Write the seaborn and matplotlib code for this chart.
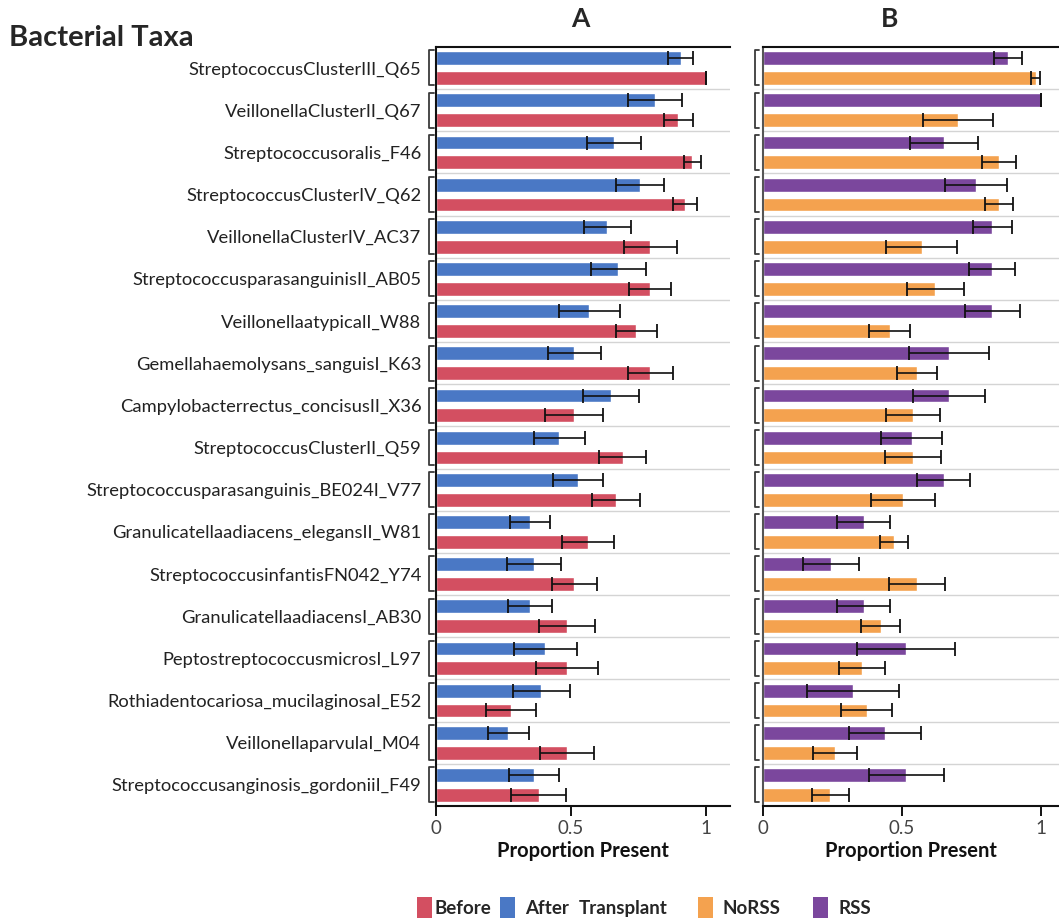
import numpy as np
import pandas as pd
import seaborn as sns
import matplotlib.pyplot as plt
from matplotlib.lines import Line2D
from matplotlib.patches import Rectangle
from matplotlib.transforms import blended_transform_factory

# ---- data -------------------------------------------------------------
taxa = [
    "StreptococcusClusterIII_Q65",
    "VeillonellaClusterII_Q67",
    "Streptococcusoralis_F46",
    "StreptococcusClusterIV_Q62",
    "VeillonellaClusterIV_AC37",
    "StreptococcusparasanguinisII_AB05",
    "VeillonellaatypicalI_W88",
    "Gemellahaemolysans_sanguisI_K63",
    "Campylobacterrectus_concisusII_X36",
    "StreptococcusClusterII_Q59",
    "Streptococcusparasanguinis_BE024I_V77",
    "Granulicatellaadiacens_elegansII_W81",
    "StreptococcusinfantisFN042_Y74",
    "GranulicatellaadiacensI_AB30",
    "PeptostreptococcusmicrosI_L97",
    "Rothiadentocariosa_mucilaginosaI_E52",
    "VeillonellaparvulaI_M04",
    "Streptococcusanginosis_gordoniiI_F49",
]

after = [0.906, 0.811, 0.660, 0.756, 0.635, 0.675, 0.567, 0.512, 0.648,
         0.457, 0.526, 0.349, 0.363, 0.349, 0.405, 0.390, 0.268, 0.363]
after_err = [0.045, 0.100, 0.100, 0.088, 0.088, 0.102, 0.113, 0.099, 0.105,
             0.093, 0.093, 0.074, 0.099, 0.082, 0.117, 0.105, 0.075, 0.091]
before = [1.000, 0.898, 0.949, 0.922, 0.794, 0.794, 0.742, 0.794, 0.512,
          0.691, 0.667, 0.563, 0.512, 0.485, 0.485, 0.279, 0.485, 0.381]
before_err = [0.000, 0.054, 0.032, 0.044, 0.099, 0.078, 0.076, 0.083, 0.108,
              0.086, 0.088, 0.095, 0.083, 0.104, 0.116, 0.093, 0.099, 0.102]

rss = [0.882, 1.000, 0.651, 0.767, 0.826, 0.826, 0.826, 0.670, 0.670,
       0.535, 0.651, 0.363, 0.246, 0.363, 0.516, 0.324, 0.439, 0.516]
rss_err = [0.051, 0.000, 0.122, 0.111, 0.070, 0.083, 0.099, 0.143, 0.131,
           0.110, 0.095, 0.096, 0.101, 0.096, 0.176, 0.167, 0.129, 0.134]
norss = [0.982, 0.702, 0.850, 0.850, 0.571, 0.621, 0.456, 0.555, 0.539,
         0.539, 0.504, 0.472, 0.555, 0.424, 0.358, 0.373, 0.259, 0.242]
norss_err = [0.016, 0.126, 0.060, 0.051, 0.128, 0.104, 0.075, 0.072, 0.097,
             0.101, 0.114, 0.050, 0.101, 0.070, 0.083, 0.092, 0.078, 0.067]

colors = {"Before": "#D34F61", "After": "#4A78C5",
          "NoRSS": "#F4A24F", "RSS": "#7B479D"}

# ---- style ------------------------------------------------------------
sns.set_style("white")
plt.rcParams["font.family"] = ["Lato", "DejaVu Sans"]

W, H = 1059, 921
fig = plt.figure(figsize=(W / 100, H / 100), dpi=100)


def fig_rect(left, top, right, bottom):
    return [left / W, 1 - bottom / H, (right - left) / W, (bottom - top) / H]


axA = fig.add_axes(fig_rect(436, 47, 730, 806))
axB = fig.add_axes(fig_rect(763, 47, 1059, 806))


def panel(ax, groups, vals, errs, xmax, spine_col, bracket_x):
    df = pd.DataFrame({
        "taxon": np.repeat([taxa], len(groups), axis=0).ravel(),
        "group": np.repeat(groups, len(taxa)),
        "value": np.concatenate(vals),
    })
    sns.barplot(data=df, y="taxon", x="value", hue="group", hue_order=groups,
                palette=[colors[g] for g in groups], orient="h",
                errorbar=None, width=0.94, gap=0.30, saturation=1,
                legend=False, ax=ax)
    # error bars at the ends of the drawn bars
    for cont, err in zip(ax.containers, errs):
        xs = [p.get_width() for p in cont.patches]
        ys = [p.get_y() + p.get_height() / 2 for p in cont.patches]
        ax.errorbar(xs, ys, xerr=err, fmt="none", ecolor="#111111",
                    elinewidth=1.2, capsize=4.8, capthick=1.3, zorder=3)
    n = len(taxa)
    ax.set_ylim(n - 0.5, -0.5)
    ax.set_xlim(0, xmax)
    # light separators between taxa
    for i in range(n - 1):
        ax.axhline(i + 0.5, color="#d4d4d4", lw=1.0, zorder=0)
    # brackets grouping each pair of bars
    tr = blended_transform_factory(ax.transAxes, ax.transData)
    x0, x1 = bracket_x
    for i in range(n):
        ax.add_line(Line2D([x1, x0, x0, x1],
                           [i - 0.42, i - 0.42, i + 0.41, i + 0.41],
                           transform=tr, color="#3a3a3a", lw=1.3,
                           clip_on=False))
    for s in ("top", "bottom"):
        ax.spines[s].set_visible(True)
        ax.spines[s].set_color("#111111")
        ax.spines[s].set_linewidth(1.5)
    ax.spines["left"].set_color(spine_col)
    ax.spines["left"].set_linewidth(1.5)
    ax.spines["right"].set_visible(False)
    ax.set_xticks([0, 0.5, 1], ["0", "0.5", "1"])
    ax.tick_params(axis="x", bottom=True, direction="out", length=7,
                   width=1.4, color="#111111", labelsize=13.5,
                   labelcolor="#444444", pad=3)
    ax.set_xlabel("Proportion Present", fontsize=14.5, fontweight="bold",
                  labelpad=3, color="#111111")
    ax.set_ylabel("")


panel(axA, ["After", "Before"], [after, before], [after_err, before_err],
      294 / 270, "#111111", (-0.024, -0.007))
panel(axB, ["RSS", "NoRSS"], [rss, norss], [rss_err, norss_err],
      296 / 277.7, "#555555", (-0.027, -0.013))

axA.tick_params(axis="y", left=False, labelsize=13.2, labelcolor="#222222",
                pad=7)
axB.set_yticklabels([])
axB.tick_params(axis="y", left=False)

# ---- headings ---------------------------------------------------------
fig.text(580 / W, 1 - 19 / H, "A", ha="center", va="center",
         fontsize=19, fontweight="bold")
fig.text(890 / W, 1 - 19 / H, "B", ha="center", va="center",
         fontsize=19, fontweight="bold")
fig.text(9 / W, 1 - 38 / H, "Bacterial Taxa", ha="left", va="center",
         fontsize=21, fontweight="bold")

# ---- legend row -------------------------------------------------------
legend_items = [("Before", 417, 434), ("After", 500, 525),
                ("NoRSS", 698, 723), ("RSS", 813, 838)]
for name, xb, xt in legend_items:
    fig.add_artist(Rectangle((xb / W, 1 - 918 / H), 15 / W, 21 / H,
                             transform=fig.transFigure,
                             color=colors[name], lw=0))
    fig.text(xt / W, 1 - 908 / H, name, ha="left", va="center",
             fontsize=13.5, fontweight="bold")
fig.text(579 / W, 1 - 908 / H, "Transplant", ha="left", va="center",
         fontsize=13.5, fontweight="bold")

fig.savefig("out.png", dpi=100)
